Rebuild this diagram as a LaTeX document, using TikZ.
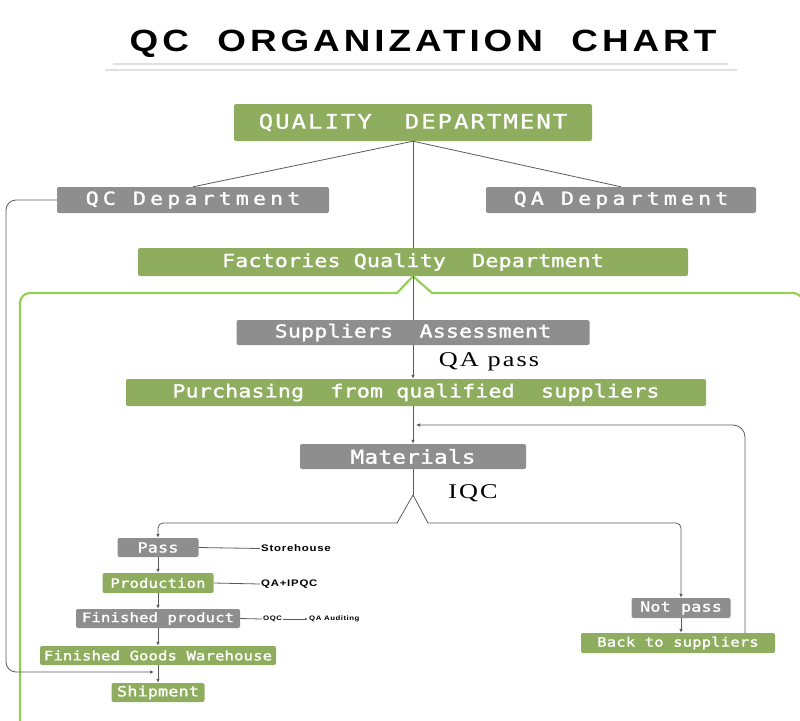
\documentclass[tikz,border=0pt]{standalone}
\usepackage{fontspec}
\usetikzlibrary{positioning,arrows.meta}

\newfontfamily\titlefont{Liberation Sans}[FakeStretch=1.2, LetterSpace=13]
\newfontfamily\headfont{DejaVu Sans Mono}[FakeStretch=1.2, LetterSpace=10, FakeBold=1]
\newfontfamily\deptfont{DejaVu Sans Mono}[FakeStretch=1.2, LetterSpace=23, FakeBold=1.5]
\newfontfamily\boxfont{DejaVu Sans Mono}[FakeStretch=1.2, LetterSpace=1, FakeBold=1.5]
\newfontfamily\notefont{Liberation Sans}[FakeStretch=1.2, LetterSpace=8]
\newfontfamily\labelfont{Liberation Serif}[FakeStretch=1.25, LetterSpace=10]

\definecolor{boxgreen}{HTML}{8FAD5E}
\definecolor{boxgray}{HTML}{8E8E8E}
\definecolor{framegreen}{HTML}{95CF5A}
\definecolor{linegray}{HTML}{5A5A5A}

\tikzset{
  box/.style={rounded corners=2pt, inner sep=0pt, text=white},
  greenbox/.style={box, fill=boxgreen},
  graybox/.style={box, fill=boxgray},
  headtext/.style={font=\headfont\fontsize{20}{20}\selectfont},
  depttext/.style={font=\deptfont\fontsize{18}{18}\selectfont},
  midtext/.style={font=\boxfont\fontsize{18}{18}\selectfont},
  lowtext/.style={font=\boxfont\fontsize{13}{13}\selectfont},
  note/.style={font=\notefont\bfseries\fontsize{9.5}{9.5}\selectfont, anchor=west, inner sep=1pt},
  tinynote/.style={font=\notefont\bfseries\fontsize{6.5}{6.5}\selectfont, anchor=west, inner sep=1pt},
  serifnote/.style={font=\labelfont\fontsize{21}{21}\selectfont, inner sep=0pt},
  link/.style={draw=linegray, line width=0.8pt},
  arrow/.style={link, -{Latex[length=4pt,width=3.5pt]}},
  frame/.style={draw=framegreen, line width=2.2pt},
  rule/.style={draw=black!12, line width=1.5pt},
}

\begin{document}
\begin{tikzpicture}[x=1pt, y=-1pt]
  \useasboundingbox (0,0) rectangle (800,720);

  \node[font=\titlefont\bfseries\fontsize{30.7}{31}\selectfont] (title) at (423,44) {QC~~ORGANIZATION~~CHART};
  \draw[rule] (113,64) -- (728,64);
  \draw[rule] (105,70) -- (737,70);

  \node[greenbox, headtext, minimum width=358pt, minimum height=37pt] (qd) at (413,122.5) {QUALITY~~DEPARTMENT};
  \node[graybox, depttext, minimum width=272pt, minimum height=26pt] (qc) at (193,200) {QC Department};
  \node[graybox, depttext, minimum width=270pt, minimum height=26pt] (qa) at (621,200) {QA Department};
  \node[greenbox, midtext, minimum width=550pt, minimum height=28pt] (fqd) at (413,262) {Factories Quality~~Department};
  \node[graybox, midtext, minimum width=353pt, minimum height=25pt] (sa) at (413,332.5) {Suppliers~~Assessment};
  \node[greenbox, midtext, minimum width=580pt, minimum height=27pt] (pur) at (416,392.5) {Purchasing~~from qualified~~suppliers};
  \node[graybox, midtext, font=\boxfont\fontsize{19}{19}\selectfont, minimum width=226pt, minimum height=25pt] (mat) at (413,456.5) {Materials};

  \node[graybox, lowtext, font=\boxfont\fontsize{14}{14}\selectfont, minimum width=81pt, minimum height=19pt] (pass) at (158,547.5) {Pass};
  \node[greenbox, lowtext, minimum width=111pt, minimum height=20pt] (prod) at (158,583) {Production};
  \node[graybox, lowtext, minimum width=164pt, minimum height=19pt] (fin) at (158,618.5) {Finished product};
  \node[greenbox, lowtext, minimum width=236pt, minimum height=19pt] (fgw) at (158,655.5) {Finished Goods Warehouse};
  \node[greenbox, lowtext, font=\boxfont\fontsize{14}{14}\selectfont, minimum width=93pt, minimum height=19pt] (ship) at (158,692.5) {Shipment};
  \node[graybox, lowtext, font=\boxfont\fontsize{14}{14}\selectfont, minimum width=99pt, minimum height=20pt] (np) at (681,608) {Not pass};
  \node[greenbox, lowtext, minimum width=194pt, minimum height=20pt] (back) at (678,643) {Back to suppliers};

  \node[serifnote] (qapass) at (489,362) {QA pass};
  \node[serifnote] (iqc) at (473,493) {IQC};
  \node[note] (store) at (260,548.5) {Storehouse};
  \node[note] (ipqc) at (260,584) {QA+IPQC};
  \node[tinynote] (oqc) at (262,619) {OQC};
  \node[tinynote] (audit) at (308,619) {QA Auditing};

  \coordinate (apex) at (413,495);
  \coordinate (lfoot) at (397,523);
  \coordinate (rfoot) at (428,523);
  \coordinate (turn) at (745,425);
  \coordinate (rejoin) at (416,425);
  \coordinate (qcturn) at (6,200);
  \coordinate (shipin) at (154,672);

  \draw[frame] (fqd.south) -- (397,293) [rounded corners=10pt] -- (20,293) -- (20,730);
  \draw[frame] (fqd.south) -- (432,293) [rounded corners=10pt] -- (803,293) -- (803,730);

  \draw[link] (qd.south) -- (qc.north);
  \draw[link] (qd.south) -- (qa.north);
  \draw[link] (qd.south) -- (fqd.north);
  \draw[link] (fqd.south) -- (sa.north);
  \draw[arrow] (sa.south) -- (sa.south |- pur.north);
  \draw[arrow] (mat.north |- pur.south) -- (mat.north);
  \draw[arrow, rounded corners=12pt] (back.north -| turn) -- (turn) -- (rejoin);
  \draw[arrow, rounded corners=10pt] (qc.west) -- (qcturn) |- (shipin);

  \draw[link] (mat.south) -- (apex);
  \draw[arrow] (apex) -- (lfoot) [rounded corners=5pt] -| (pass.north);
  \draw[arrow] (apex) -- (rfoot) [rounded corners=5pt] -| (np.north);
  \draw[arrow] (np.south) -- (np.south |- back.north);
  \foreach \a/\b in {pass/prod, prod/fin, fin/fgw, fgw/ship}
    \draw[arrow] (\a.south) -- (\b.north);

  \draw[link] (pass.east) -- (store.west);
  \draw[link] (prod.east) -- (ipqc.west);
  \draw[link] (fin.east) -- (oqc.west);
  \draw[link, -{Latex[length=3pt,width=2.5pt]}] (oqc.east) -- (audit.west);
\end{tikzpicture}
\end{document}
